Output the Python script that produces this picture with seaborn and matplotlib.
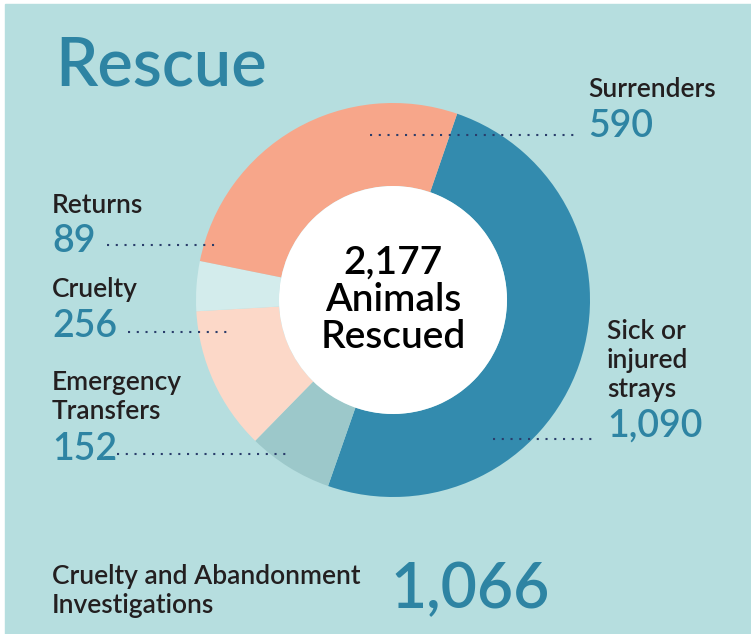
import seaborn as sns
import numpy as np
import matplotlib
matplotlib.use("Agg")
import matplotlib.pyplot as plt

# data
categories = ["Sick or\ninjured\nstrays", "Emergency\nTransfers", "Cruelty", "Returns", "Surrenders"]
values = [1090, 152, 256, 89, 590]
total_rescued = 2177
investigations_label = "Cruelty and Abandonment\nInvestigations"
investigations = 1066

colors = ["#338bae", "#9cc8ca", "#fcd8c8", "#d3ecec", "#f7a68a"]
bg = "#b6dedf"
teal = "#2e84a3"
ink = "#231f20"
navy = "#2a3d6b"

sns.set_style("white")
plt.rcParams["font.family"] = ["Lato", "DejaVu Sans"]

W, H = 751, 634
fig = plt.figure(figsize=(W / 100, H / 100), dpi=100)
fig.patch.set_facecolor("white")

# background panel
back = fig.add_axes([0, 0, 1, 1])
back.set_xlim(0, W)
back.set_ylim(H, 0)
back.axis("off")
back.add_patch(plt.Rectangle((5, 4), W - 5, H - 4, color=bg, zorder=0))

# donut
cx, cy, r_out, r_in = 393, 300, 197, 114
pie_ax = fig.add_axes([(cx - 200) / W, (H - cy - 200) / H, 400 / W, 400 / H])
pie_ax.pie(values, colors=colors, startangle=71, counterclock=False,
           radius=r_out, wedgeprops=dict(width=r_out - r_in, linewidth=0))
pie_ax.pie([total_rescued], colors=["white"], radius=r_in,
           wedgeprops=dict(linewidth=0))
pie_ax.set_xlim(-200, 200)
pie_ax.set_ylim(-200, 200)
pie_ax.set_aspect("equal")
pie_ax.axis("off")
pie_ax.text(0, 0, f"{total_rescued:,}\nAnimals\nRescued", ha="center", va="center",
            fontsize=28, fontweight="semibold", color="black", linespacing=1.05)

# overlay for text and leader lines (pixel coords, origin top-left)
ov = fig.add_axes([0, 0, 1, 1])
ov.set_xlim(0, W)
ov.set_ylim(H, 0)
ov.axis("off")
ov.patch.set_alpha(0)

ov.text(55, 85, "Rescue", fontsize=48, color=teal, fontweight="semibold", va="baseline")

lab_fs, num_fs = 19, 27

def label(x, y_name, y_num, name, value):
    # y_name is the baseline of the last line of the name
    ov.text(x, y_name, name, fontsize=lab_fs, color=ink, fontweight="semibold",
            va="baseline", linespacing=1.2)
    ov.text(x, y_num, f"{value:,}", fontsize=num_fs, color=teal, fontweight="semibold",
            va="baseline")

label(588, 97, 137, categories[4], values[4])
label(52, 213, 252, categories[3], values[3])
label(52, 297, 337, categories[2], values[2])
label(52, 419, 460, categories[1], values[1])
label(607, 397, 437, categories[0], values[0])

# leader lines
dots = dict(color=navy, linewidth=1.5, linestyle=(0, (1, 3.2)))
ov.plot([370, 577], [135, 135], **dots)
ov.plot([107, 218], [245, 245], **dots)
ov.plot([128, 230], [332, 332], **dots)
ov.plot([117, 292], [454, 454], **dots)
ov.plot([493, 595], [439, 439], **dots)

# investigations
ov.text(52, 613, investigations_label, fontsize=19, color=ink, fontweight="semibold",
        va="baseline", linespacing=1.2)
ov.text(390, 608, f"{investigations:,}", fontsize=45, color=teal, fontweight="semibold",
        va="baseline")

fig.savefig("out.png", dpi=100)
